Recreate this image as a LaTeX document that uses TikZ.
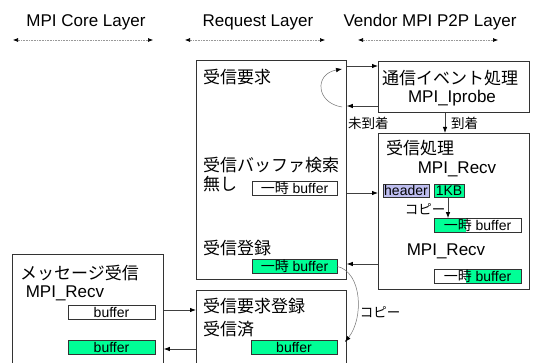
\documentclass[tikz,border=0pt]{standalone}
\usepackage{fontspec}
\setmainfont{Liberation Sans}
\newfontfamily\jpf{Noto Sans CJK JP}
\usetikzlibrary{arrows.meta,calc}
\definecolor{bgreen}{RGB}{0,255,150}
\definecolor{lav}{RGB}{190,190,240}
\newcommand{\J}[1]{{\jpf #1}}
\begin{document}
\begin{tikzpicture}[x=1pt,y=-1pt,
  big/.style={font=\fontsize{17}{20}\selectfont, inner sep=0pt},
  small/.style={font=\fontsize{14}{16}\selectfont, inner sep=0pt},
  lbl/.style={font=\fontsize{13.5}{16}\selectfont, inner sep=0pt},
  box/.style={draw=black!80, line width=0.8pt, anchor=north west, inner sep=0pt},
  buf/.style={draw=black!80, line width=0.7pt, minimum height=14pt, inner sep=0pt, font=\fontsize{14}{16}\selectfont},
  tip/.style={-{Latex[length=6pt,width=4.5pt,color=black]}},
  arr/.style={tip, draw=black!75, line width=0.8pt},
  thinarr/.style={tip, draw=black!55, line width=0.5pt},
  layer/.style={{Latex[length=5pt,width=4pt,color=black]}-{Latex[length=5pt,width=4pt,color=black]}, draw=black!40, densely dotted, line width=0.6pt},
  leftgreen/.style={path picture={\fill[bgreen] (path picture bounding box.south west) rectangle ([xshift=32pt]path picture bounding box.north west);}},
  rightgreen/.style={path picture={\fill[bgreen] ([xshift=32pt]path picture bounding box.south west) rectangle (path picture bounding box.north east);}}
]
\useasboundingbox[fill=white] (0,0) rectangle (554,363);

% layer headings
\node[big] (h1) at (86,22) {MPI Core Layer};
\node[big] (h2) at (258,22) {Request Layer};
\node[big] (h3) at (430,22) {Vendor MPI P2P Layer};
\coordinate (l1a) at (13,40); \coordinate (l1b) at (153,40);
\coordinate (l2a) at (185,40); \coordinate (l2b) at (325,40);
\coordinate (l3a) at (358,40); \coordinate (l3b) at (498,40);
\draw[layer] (l1a) -- (l1b);
\draw[layer] (l2a) -- (l2b);
\draw[layer] (l3a) -- (l3b);

% boxes
\node[box, minimum width=150pt, minimum height=219pt] (req1) at (196,60) {};
\node[box, minimum width=150pt, minimum height=90pt] (req2) at (196,290) {};
\node[box, minimum width=151pt, minimum height=130pt] (core) at (12,254) {};
\node[box, minimum width=151pt, minimum height=51pt] (ev) at (378,61) {};
\node[box, minimum width=151pt, minimum height=156pt] (rv) at (378,133) {};

% request layer texts
\node[big, anchor=west] (t1) at (203,77) {\J{受信要求}};
\node[big, anchor=west] (t2) at (203,165) {\J{受信バッファ検索}};
\node[big, anchor=west] (t3) at (203,184) {\J{無し}};
\node[big, anchor=west] (t4) at (203,248) {\J{受信登録}};
\node[big, anchor=west] (t5) at (203,306) {\J{受信要求登録}};
\node[big, anchor=west] (t6) at (203,329) {\J{受信済}};
\node[buf, minimum width=85pt] (b1) at (294.5,188) {\J{一時} buffer};
\node[buf, minimum width=85pt, fill=bgreen] (b2) at (294.5,266.5) {\J{一時} buffer};
\node[buf, minimum width=86pt, fill=bgreen] (b3) at (294,347.5) {buffer};

% core layer texts
\node[big, anchor=west] (c0) at (20,273) {\J{メッセージ受信}};
\node[big] (c1) at (65,293) {MPI\_Recv};
\node[buf, minimum width=87pt] (cb1) at (111.5,312.5) {buffer};
\node[buf, minimum width=87pt, fill=bgreen] (cb2) at (111.5,347.5) {buffer};

% vendor layer texts
\node[big] (v1) at (450,78) {\J{通信イベント処理}};
\node[big] (v2) at (452,98) {MPI\_Iprobe};
\node[big, anchor=west] (v3) at (386,148) {\J{受信処理}};
\node[big] (v4) at (457,169) {MPI\_Recv};
\node[buf, minimum width=46pt, minimum height=13pt, fill=lav] (hdr) at (406,190.5) {header};
\node[buf, minimum width=30pt, minimum height=13pt, fill=bgreen] (kb) at (449,190.5) {1KB};
\node[lbl] (cp1) at (425,209) {\J{コピー}};
\node[buf, minimum width=87pt, leftgreen] (tb1) at (477.5,225.5) {\J{一時} buffer};
\node[big] (v5) at (446,251) {MPI\_Recv};
\node[buf, minimum width=87pt, rightgreen] (tb2) at (477.5,276.5) {\J{一時} buffer};

% labels
\node[lbl, anchor=west] (na) at (348,123) {\J{未到着}};
\node[lbl, anchor=west] (ar) at (451,123) {\J{到着}};
\node[lbl] (cp2) at (380,312) {\J{コピー}};

% connectors
\draw[arr] (req1.east |- 0,66) -- (ev.west |- 0,66);
\draw[arr] (ev.west |- 0,106) -- (req1.east |- 0,106);
\draw[arr] (445,0 |- ev.south) -- (445,0 |- rv.north);
\draw[arr] (req1.east |- 0,193) -- (rv.west |- 0,193);
\draw[arr] (rv.west |- 0,264) -- (req1.east |- 0,264);
\draw[arr] (core.east |- 0,310) -- (req2.west |- 0,310);
\draw[arr] (req2.west |- 0,349) -- (core.east |- 0,349);
\draw[arr] (448,0 |- kb.south) -- (448,0 |- tb1.north);

\coordinate (la) at (342,107);
\coordinate (lb) at (342,69);
\draw[thinarr] (la) .. controls (316,103) and (314,74) .. (lb);
\coordinate (ce) at (345,342);
\draw[thinarr] (b2.east) .. controls (362,272) and (364,318) .. (ce);
\end{tikzpicture}
\end{document}
